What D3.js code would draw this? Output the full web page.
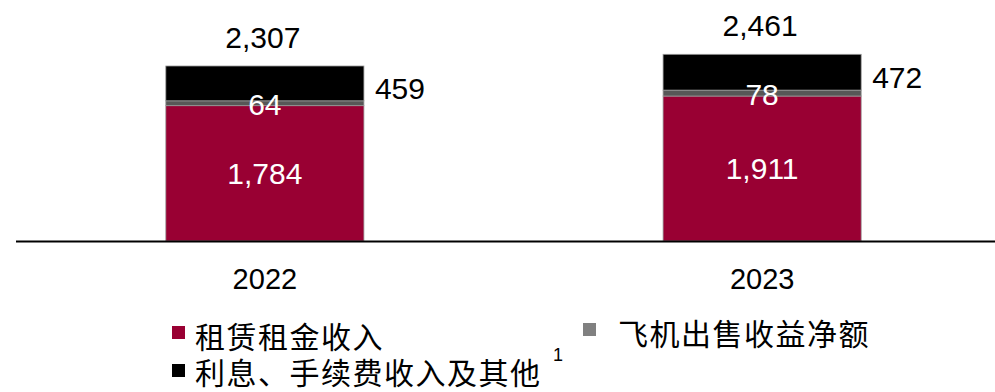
<!DOCTYPE html>
<html>
<head>
<meta charset="utf-8">
<script src="https://cdn.jsdelivr.net/npm/d3@7"></script>
<style>
  html, body { margin: 0; padding: 0; background: #fff; }
  svg { display: block; }
  text { font-family: "Liberation Sans", Arial, sans-serif; }
  .cjk { font-family: "Noto Sans CJK SC", "Liberation Sans", sans-serif; letter-spacing: 1.5px; }
</style>
</head>
<body>
<svg id="chart" width="995" height="392"></svg>
<script>
// Revenue composition by year (US$ millions)
const years = ["2022", "2023"];
const leaseRental = [1784, 1911];      // 租赁租金收入
const aircraftSales = [64, 78];        // 飞机出售收益净额
const interestFeesOther = [459, 472];  // 利息、手续费收入及其他
const totals = [2307, 2461];

const seriesNames = ["租赁租金收入", "飞机出售收益净额", "利息、手续费收入及其他"];
const colors = ["#990033", "#575757", "#000000"];
const legendColors = ["#990033", "#808080", "#000000"];

const fmt = d3.format(",");
const svg = d3.select("#chart");

const baseY = 241;
const x = d3.scaleBand().domain(years).range([16, 1011]).paddingInner(0.6016).paddingOuter(0.3013);
const y = d3.scaleLinear().domain([0, 3177]).range([baseY, 0]);

const rows = years.map((yr, i) => ({
  year: yr, lease: leaseRental[i], sales: aircraftSales[i], other: interestFeesOther[i], total: totals[i]
}));
const keys = ["lease", "sales", "other"];
const stacked = d3.stack().keys(keys)(rows);

// stacked bars
const layers = svg.append("g").selectAll("g").data(stacked).join("g")
  .attr("fill", (d, i) => colors[i]);
layers.selectAll("rect").data(d => d).join("rect")
  .attr("x", d => x(d.data.year))
  .attr("width", x.bandwidth())
  .attr("y", d => y(d[1]))
  .attr("height", d => y(d[0]) - y(d[1]))
  .attr("stroke", "#9a9a9a")
  .attr("stroke-width", 0.8);

// baseline axis
const axis = svg.append("g").attr("transform", `translate(0,${baseY})`)
  .call(d3.axisBottom(x).tickSize(0).tickPadding(27));
axis.select(".domain").attr("stroke", "#000").attr("stroke-width", 2)
  .attr("d", "M16,0.5H995");
axis.selectAll(".tick text").attr("font-size", 29).attr("fill", "#000")
  .attr("font-family", "Liberation Sans, Arial, sans-serif");

// labels inside the lease and sale segments
const inside = svg.append("g").attr("fill", "#fff").attr("font-size", 30).attr("text-anchor", "middle");
stacked[0].forEach(d => {
  inside.append("text").attr("x", x(d.data.year) + x.bandwidth() / 2)
    .attr("y", (y(d[0]) + y(d[1])) / 2).attr("dy", "0.36em").text(fmt(d.data.lease));
});
stacked[1].forEach(d => {
  inside.append("text").attr("x", x(d.data.year) + x.bandwidth() / 2)
    .attr("y", (y(d[0]) + y(d[1])) / 2 + 1).attr("dy", "0.36em").text(fmt(d.data.sales));
});

// labels to the right of the top segment
const side = svg.append("g").attr("fill", "#000").attr("font-size", 30);
stacked[2].forEach(d => {
  side.append("text").attr("x", x(d.data.year) + x.bandwidth() + 11)
    .attr("y", (y(d[0]) + y(d[1])) / 2 + 5).attr("dy", "0.36em").text(fmt(d.data.other));
});

// totals above the bars
const tot = svg.append("g").attr("fill", "#000").attr("font-size", 30).attr("text-anchor", "middle");
rows.forEach(r => {
  tot.append("text").attr("x", x(r.year) + x.bandwidth() / 2 - 2)
    .attr("y", y(r.total) - 18).text(fmt(r.total));
});

// legend
const legendItems = [
  { name: seriesNames[0], color: legendColors[0], sx: 172, sy: 326, tx: 195, ty: 348 },
  { name: seriesNames[1], color: legendColors[1], sx: 583, sy: 323, tx: 618, ty: 345 },
  { name: seriesNames[2], color: legendColors[2], sx: 172, sy: 364, tx: 195, ty: 384 }
];
const legend = svg.append("g");
legendItems.forEach(it => {
  legend.append("rect").attr("x", it.sx).attr("y", it.sy).attr("width", 13).attr("height", 13).attr("fill", it.color);
  legend.append("text").attr("class", "cjk").attr("x", it.tx).attr("y", it.ty)
    .attr("font-size", 30).attr("fill", "#000").text(it.name);
});
legend.append("text").attr("x", 553).attr("y", 361).attr("font-size", 18).attr("fill", "#000").text("1");
</script>
</body>
</html>
